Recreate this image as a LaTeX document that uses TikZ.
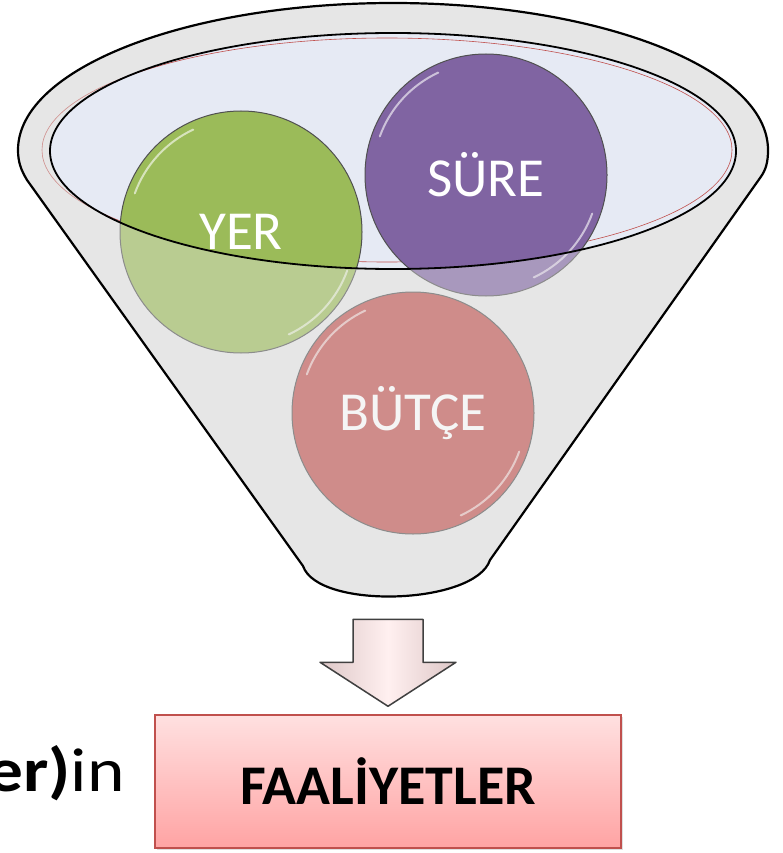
\documentclass[tikz,border=0pt]{standalone}
\usepackage{fontspec}
\setmainfont{Carlito}
\usetikzlibrary{shadows}

\definecolor{rimgray}{HTML}{E6E6E6}
\definecolor{mouthblue}{HTML}{E6EAF4}
\definecolor{yergreen}{HTML}{9BBB59}
\definecolor{surepurple}{HTML}{8064A2}
\definecolor{butcered}{HTML}{C0504D}
\definecolor{ballline}{HTML}{505050}

% outline of the funnel (pixel coordinates, y down)
\newcommand{\funnelpath}{(18,150) arc[start angle=180, end angle=360, x radius=375, y radius=147]
    .. controls (768,162) and (766,170) .. (760,178) -- (490,560)
    .. controls (475,605) and (318,610) .. (303,566) -- (27,180)
    .. controls (21,170) and (18,162) .. (18,150) -- cycle}

\begin{document}
\begin{tikzpicture}[
        x=1pt, y=-1pt,
        ball/.style={circle, draw=ballline, line width=1pt, minimum size=242pt, inner sep=0pt, text=white, font=\fontsize{55}{60}\selectfont},
        gloss/.style={white, line width=2pt, opacity=0.6, line cap=round},
        outbox/.style={rectangle, draw=butcered, line width=1.5pt, top color=red!12, bottom color=red!36, minimum width=466pt, minimum height=133pt, font=\bfseries\fontsize{56}{60}\selectfont, drop shadow={opacity=0.25, shadow xshift=2pt, shadow yshift=-2pt}},
        blockarrow/.style={draw=black!75, line width=1.5pt, line join=round, left color=red!25!gray!35, right color=red!25!gray!35, middle color=red!6}
    ]
        \clip (0,0) rectangle (783,853);

        % Funnel back
        \fill[rimgray] \funnelpath;
        \fill[mouthblue] (393,151) ellipse[x radius=343, y radius=118];
        \draw[butcered, line width=0.6pt] (387,150) ellipse[x radius=345, y radius=112];

        % Balls in the funnel
        \node[ball, fill=yergreen] (ball_yer) at (241,232) {YER};
        \node[ball, fill=surepurple] (ball_sure) at (486,175) {SÜRE};
        \node[ball, fill=butcered] (ball_butce) at (413,413) {BÜTÇE};
        \foreach \b in {ball_yer, ball_sure, ball_butce} {
            \draw[gloss] (\b.center) ++(200:113) arc[start angle=200, end angle=245, radius=113];
            \draw[gloss] (\b.center) ++(20:113) arc[start angle=20, end angle=65, radius=113];
        }

        % Funnel front
        \fill[rimgray, opacity=0.4, even odd rule] \funnelpath (393,151) ellipse[x radius=343, y radius=118];
        \draw[line width=1.8pt] (393,151) ellipse[x radius=343, y radius=118];
        \draw[line width=2.2pt, line join=round] \funnelpath;

        % Result box and arrow
        \node[outbox] (out_box) at (388,781.5) {FAALİYETLER};
        \coordinate (arrow_tip) at ([yshift=8pt]out_box.north);
        \draw[blockarrow] (arrow_tip) -- ++(-68,-44) -- ++(33,0) -- ++(0,-43) -- ++(70,0) -- ++(0,43) -- ++(33,0) -- cycle;

        % Text cut at the left
        \node[anchor=base east, inner sep=0pt, font=\fontsize{62}{70}\selectfont] (side_text) at (125,791) {\scalebox{1.15}[1]{\textbf{er)}in}};

    \end{tikzpicture}
\end{document}
